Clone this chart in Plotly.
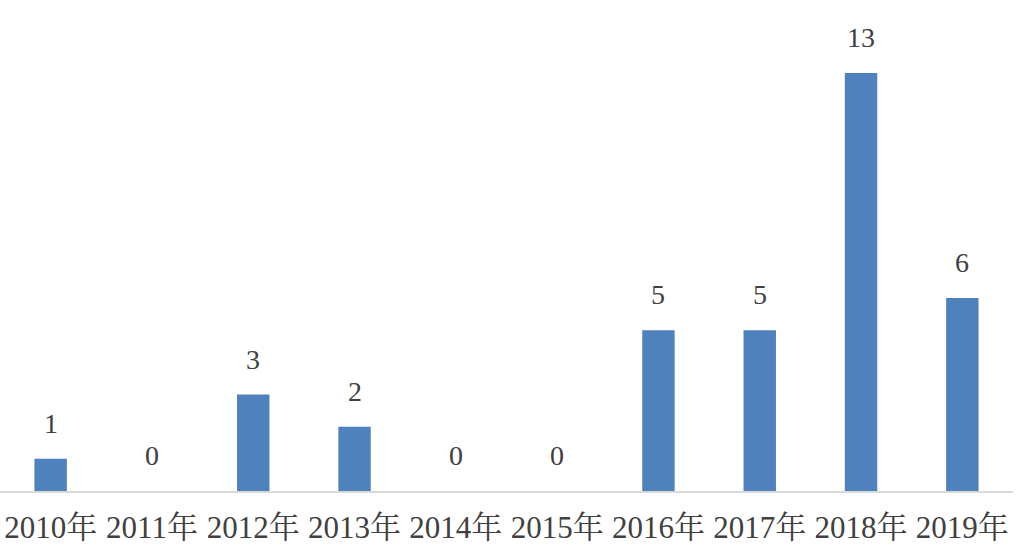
import plotly.graph_objects as go

years = ["2010年", "2011年", "2012年", "2013年", "2014年", "2015年", "2016年", "2017年", "2018年", "2019年"]
counts = [1, 0, 3, 2, 0, 0, 5, 5, 13, 6]

font_family = "Liberation Serif, 'Noto Serif CJK SC', 'Noto Sans CJK SC', serif"
text_color = "#404040"

fig = go.Figure()
fig.add_trace(go.Bar(
    x=years, y=counts,
    marker=dict(color="#4F81BD", line=dict(width=0)),
    width=0.32,
    hoverinfo="x+y",
))

annotations = []
for yr, c in zip(years, counts):
    annotations.append(dict(
        x=yr, y=c, xref="x", yref="y",
        text=str(c), showarrow=False,
        yanchor="bottom", yshift=18,
        font=dict(family=font_family, size=28, color=text_color),
    ))

fig.update_layout(
    width=1016, height=550,
    margin=dict(l=0, r=3, t=0, b=59),
    paper_bgcolor="white", plot_bgcolor="white",
    showlegend=False,
    annotations=annotations,
    xaxis=dict(
        showgrid=False, showline=True, linecolor="#D9D9D9", linewidth=2,
        ticks="", ticklabelstandoff=8, automargin=False,
        tickfont=dict(family=font_family, size=31, color=text_color),
    ),
    yaxis=dict(
        range=[0, 15.27], showgrid=False, showticklabels=False,
        zeroline=False, showline=False, automargin=False,
    ),
)

fig.write_html("out.html", config={"displayModeBar": False},
               post_script="document.body.style.margin='0';")
